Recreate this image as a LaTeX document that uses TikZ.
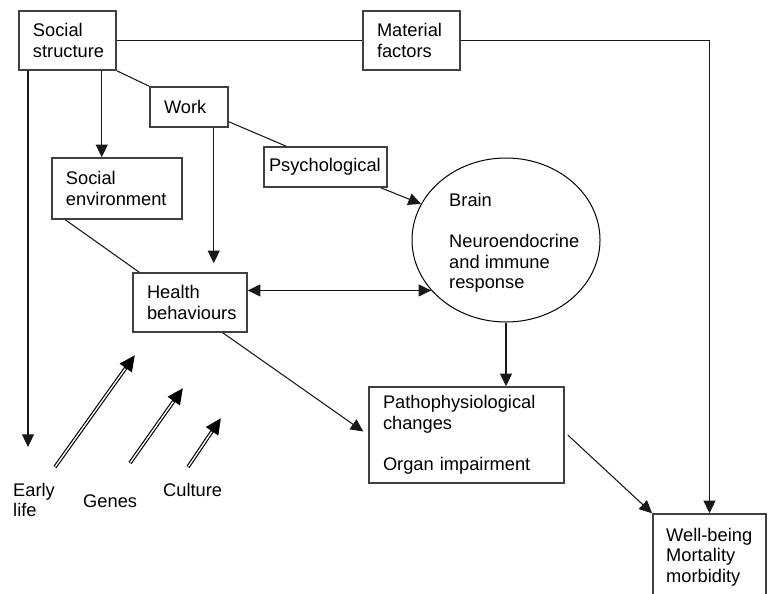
\documentclass[tikz,border=0pt]{standalone}
\usepackage{fontspec}
\setmainfont{Liberation Sans}
\usepackage{tikz}
\usetikzlibrary{arrows.meta,shapes.geometric}

\begin{document}
\begin{tikzpicture}[x=0.03cm,y=-0.03cm,font=\fontsize{15.6}{17.5}\selectfont,
  box/.style={draw=black!75,line width=0.045cm,rectangle,align=left,inner xsep=0.42cm,inner ysep=0pt},
  ln/.style={line width=0.032cm,black!90},
  arr/.style={ln,-{Triangle[length=0.38cm,width=0.36cm]}},
  dblarr/.style={line width=0.11cm,-{Triangle[length=0.48cm,width=0.42cm]},
    postaction={draw=white,line width=0.04cm,-,shorten >=0.5cm,shorten <=0.02cm}}]
  \useasboundingbox (0,0) rectangle (769,593);
  \clip (0,0) rectangle (769,593);
  % boxes
  \node[box,text width=2.07cm,minimum height=1.77cm] (socstr) at (67.5,40.5) {Social\\structure};
  \node[box,text width=2.07cm,minimum height=1.77cm] (material) at (411.5,40.5) {Material\\factors};
  \node[box,text width=1.5cm,minimum height=1.2cm] (work) at (189,107) {Work};
  \node[box,inner xsep=0.15cm,text width=3.39cm,minimum height=1.2cm] (psych) at (325.5,167) {Psychological};
  \node[box,text width=3.06cm,minimum height=1.83cm] (socenv) at (117,188.5) {Social\\environment};
  \node[box,text width=2.58cm,minimum height=1.77cm] (health) at (190,302.5) {Health\\behaviours};
  \node[box,text width=5.01cm,minimum height=2.88cm] (patho) at (466.5,435) {Pathophysiological\\changes\\[17.5pt]Organ impairment};
  \node[box,inner xsep=0.4cm,text width=2.6cm,minimum height=2.58cm] (wellb) at (709.5,557) {\mbox{Well-being}\\Mortality\\morbidity};
  \node[draw,ellipse,line width=0.03cm,minimum width=5.64cm,minimum height=4.92cm] (brain) at (506,240) {};
  \node[anchor=west,inner sep=0pt,align=left] (brainlbl) at (449,243) {Brain\\[17.5pt]Neuroendocrine\\and immune\\response};
  % outside influences
  \node[anchor=north west,inner sep=0pt,align=left] (early) at (13,483) {Early\\life};
  \node[anchor=base west,inner sep=0pt] (genes) at (83,507) {Genes};
  \node[anchor=base west,inner sep=0pt] (culture) at (163,496) {Culture};
  \coordinate (elend) at (28,447);
  \coordinate (g1s) at (55,467);  \coordinate (g1e) at (135,355);
  \coordinate (g2s) at (130,463); \coordinate (g2e) at (183,388);
  \coordinate (g3s) at (188,467); \coordinate (g3e) at (221,418);
  % connectors
  \draw[ln] (socstr.east) -- (material.west);
  \draw[arr] (material.east) -| (wellb.north);
  \draw[ln] (socstr.south east) -- (work.north west);
  \draw[arr] ([xshift=-0.45cm]socstr.south east) -- ([xshift=-0.45cm]socstr.south east |- socenv.north);
  \draw[arr] (elend |- socstr.south) -- (elend);
  \draw[arr,shorten >=0.27cm] ([xshift=-0.45cm]work.south east) -- ([xshift=-0.45cm]work.south east |- health.north);
  \draw[ln] ([yshift=0.18cm]work.south east) -- ([xshift=0.69cm]psych.north west);
  \draw[arr] ([xshift=-0.21cm]psych.south east) -- (brain.157);
  \draw[ln,{Triangle[length=0.38cm,width=0.36cm]}-{Triangle[length=0.38cm,width=0.36cm]}] (health.east |- brain.214) -- (brain.214);
  \draw[ln] ([xshift=0.42cm]socenv.south west) -- ([xshift=0.21cm]health.north west);
  \draw[arr,shorten >=0.18cm] ([xshift=-0.75cm]health.south east) -- (patho.west);
  \draw[arr] (brain.south) -- (brain.south |- patho.north);
  \draw[arr] ([xshift=0.09cm]patho.east) -- (wellb.north west);
  \draw[dblarr] (g1s) -- (g1e);
  \draw[dblarr] (g2s) -- (g2e);
  \draw[dblarr] (g3s) -- (g3e);
\end{tikzpicture}
\end{document}
